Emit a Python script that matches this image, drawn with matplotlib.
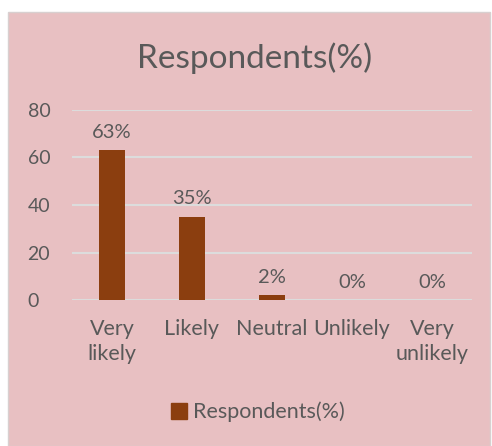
import matplotlib
matplotlib.use("Agg")
import matplotlib.pyplot as plt
from matplotlib.patches import Rectangle

categories = ["Very\nlikely", "Likely", "Neutral", "Unlikely", "Very\nunlikely"]
values = [63, 35, 2, 0, 0]
labels = ["63%", "35%", "2%", "0%", "0%"]
series_name = "Respondents(%)"

plt.rcParams['font.family'] = ['Lato', 'DejaVu Sans']
txt = "#595959"
bar_color = "#8B3E0F"
bg = "#e8c0c2"

fig = plt.figure(figsize=(4.92, 4.46), dpi=100)
fig.patch.set_facecolor("white")
fig.patches.append(Rectangle((8/492, 0), 482/492, 1 - 12/446, transform=fig.transFigure,
                             facecolor=bg, edgecolor="#d8d0d0", lw=1, zorder=-5))

ax = fig.add_axes([72/492, 1 - 300/446, 400/492, 190/446])
ax.set_zorder(2)
ax.set_facecolor("none")
x = range(len(categories))
ax.bar(x, values, width=0.32, color=bar_color, zorder=3)
for xi, v, l in zip(x, values, labels):
    ax.text(xi, v + 4, l, ha="center", va="bottom", fontsize=14.5, color=txt)
ax.set_ylim(0, 80)
ax.set_xlim(-0.5, 4.5)
ax.set_yticks([0, 20, 40, 60, 80])
ax.set_xticks(list(x))
ax.set_xticklabels(categories, fontsize=15.5, color=txt, linespacing=1.27)
ax.tick_params(axis="y", labelsize=14, labelcolor=txt, length=0, pad=32)
ax.tick_params(axis="x", length=0, pad=14)
for t in ax.get_yticklabels():
    t.set_horizontalalignment("left")
ax.grid(axis="y", color="#dcdcdc", lw=1.5, zorder=1)
for s in ax.spines.values():
    s.set_visible(False)

fig.text(255/492, 1 - 58/446, "Respondents(%)", ha="center", va="center", fontsize=24, color=txt, zorder=3)

leg = ax.legend([Rectangle((0, 0), 1, 1, color=bar_color)], [series_name],
                loc="center", bbox_to_anchor=(258/492, 1 - 412/446), bbox_transform=fig.transFigure,
                frameon=False, fontsize=15.5, handlelength=0.75, handleheight=0.75, handletextpad=0.3)
for t in leg.get_texts():
    t.set_color(txt)

fig.savefig("out.png", dpi=100)
